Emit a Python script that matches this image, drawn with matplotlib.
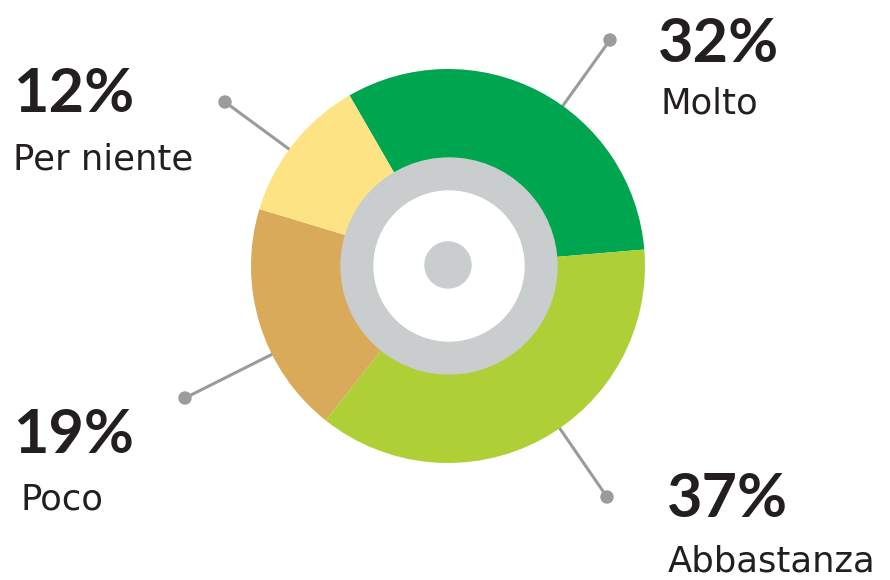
import matplotlib
matplotlib.use("Agg")
import matplotlib.pyplot as plt
from matplotlib.patches import Circle

# data
categories = ["Molto", "Abbastanza", "Poco", "Per niente"]
values = [32, 37, 19, 12]
colors = ["#00a54f", "#afcf36", "#d9aa5a", "#fee384"]

W, H = 890, 580
CX, CY = 448, 266


def fy(py):
    # pixel row -> data y (origin bottom-left)
    return H - py


fig = plt.figure(figsize=(8.9, 5.8), dpi=100)
ax = fig.add_axes([0, 0, 1, 1])

# leader lines + dots (dot position, pct anchor, label anchor)
leaders = {
    "Molto": ((610, 40), (658, 62), (660, 113)),
    "Abbastanza": ((607, 497), (667, 517), (668, 572)),
    "Poco": ((185, 398), (13, 453), (20, 510)),
    "Per niente": ((225, 102), (13, 112), (13, 170)),
}

for name, (dot, _, _) in leaders.items():
    ax.plot([dot[0], CX], [fy(dot[1]), fy(CY)], color="#999b9c", lw=2.2,
            zorder=1, solid_capstyle="round")
    ax.add_patch(Circle((dot[0], fy(dot[1])), 6, color="#999b9c", zorder=1))

ax.pie(values, colors=colors, startangle=120, counterclock=False,
       radius=197, center=(CX, fy(CY)),
       wedgeprops=dict(linewidth=0, zorder=2))
for p in ax.patches:
    p.set_zorder(2)

ax.add_patch(Circle((CX + 1, fy(CY)), 108, color="#c9cdcd", zorder=3))
ax.add_patch(Circle((CX + 1, fy(CY)), 75, color="white", zorder=4))
ax.add_patch(Circle((CX, fy(CY - 1)), 23, color="#c9cdcd", zorder=5))

for name, v in zip(categories, values):
    _, pct_pos, lab_pos = leaders[name]
    ax.text(pct_pos[0], fy(pct_pos[1]), f"{v}%", fontsize=44,
            fontweight="bold", family="Lato", color="#231f20",
            ha="left", va="baseline")
    ax.text(lab_pos[0], fy(lab_pos[1]), name, fontsize=25.5,
            family="DejaVu Sans", color="#231f20", ha="left", va="baseline")

ax.set_xlim(0, W)
ax.set_ylim(0, H)
ax.set_aspect("equal")
ax.axis("off")

fig.savefig("out.png", dpi=100)
